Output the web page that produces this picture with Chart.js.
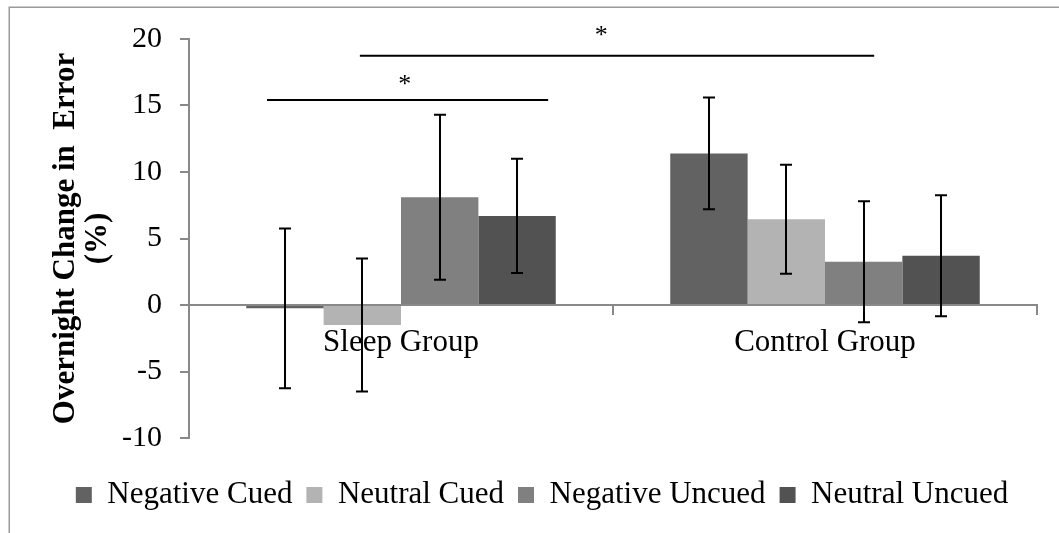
<!DOCTYPE html>
<html><head><meta charset="utf-8">
<script src="https://cdn.jsdelivr.net/npm/chart.js@4.4.1/dist/chart.umd.min.js"></script>
<style>html,body{margin:0;padding:0;background:#fff}#wrap{width:1059px;height:533px}</style>
</head><body><div id="wrap"><canvas id="c" width="1059" height="533"></canvas></div>
<script>
// ---- data ----
const categories = ['Sleep Group', 'Control Group'];
const seriesNames = ['Negative Cued', 'Neutral Cued', 'Negative Uncued', 'Neutral Uncued'];
const negativeCued = [-0.25, 11.4];
const neutralCued = [-1.5, 6.45];
const negativeUncued = [8.1, 3.25];
const neutralUncued = [6.7, 3.7];
const negativeCuedErr = [6.0, 4.2];
const neutralCuedErr = [5.0, 4.1];
const negativeUncuedErr = [6.2, 4.55];
const neutralUncuedErr = [4.3, 4.55];
const yMin = -10, yMax = 20, yStep = 5;
// significance brackets (x in category units, y in data units)
const sigFrom = [-0.316, -0.097];
const sigTo = [0.347, 1.116];
const sigY = [15.42, 18.74];
const sigLabel = ['*', '*'];
const starX = [0.009, 0.472];
const starY = [17.0, 20.7];

const seriesValues = [negativeCued, neutralCued, negativeUncued, neutralUncued];
const seriesErrors = [negativeCuedErr, neutralCuedErr, negativeUncuedErr, neutralUncuedErr];
const colors = ['#626262', '#b3b3b3', '#808080', '#525252'];
const FONT = "'Liberation Serif', 'Times New Roman', serif";
const AXIS = '#898989';

const framePlugin = {
  id: 'frame',
  beforeDraw(chart) {
    const ctx = chart.ctx;
    ctx.save();
    ctx.fillStyle = '#fff';
    ctx.fillRect(0, 0, chart.width, chart.height);
    ctx.strokeStyle = '#9a9a9a';
    ctx.lineWidth = 1.5;
    ctx.strokeRect(9.25, 7.25, 3000, 3000);
    ctx.restore();
  }
};

const errorBarPlugin = {
  id: 'errorBars',
  afterDatasetsDraw(chart) {
    const ctx = chart.ctx;
    const ys = chart.scales.y;
    ctx.save();
    ctx.strokeStyle = '#000';
    ctx.lineWidth = 2;
    chart.data.datasets.forEach((ds, i) => {
      const meta = chart.getDatasetMeta(i);
      meta.data.forEach((bar, j) => {
        const v = ds.data[j], e = seriesErrors[i][j];
        const x = Math.round(bar.x);
        const yt = ys.getPixelForValue(v + e), yb = ys.getPixelForValue(v - e);
        ctx.beginPath();
        ctx.moveTo(x, yt); ctx.lineTo(x, yb);
        ctx.moveTo(x - 6, yt); ctx.lineTo(x + 6, yt);
        ctx.moveTo(x - 6, yb); ctx.lineTo(x + 6, yb);
        ctx.stroke();
      });
    });
    ctx.restore();
  }
};

const sigPlugin = {
  id: 'sig',
  afterDraw(chart) {
    const ctx = chart.ctx;
    const xs = chart.scales.x, ys = chart.scales.y;
    ctx.save();
    ctx.strokeStyle = '#000';
    ctx.lineWidth = 2;
    for (let k = 0; k < sigFrom.length; k++) {
      const y = ys.getPixelForValue(sigY[k]);
      ctx.beginPath();
      ctx.moveTo(xs.getPixelForValue(sigFrom[k]), y);
      ctx.lineTo(xs.getPixelForValue(sigTo[k]), y);
      ctx.stroke();
      ctx.fillStyle = '#000';
      ctx.font = '26px ' + FONT;
      ctx.textAlign = 'center';
      ctx.textBaseline = 'alphabetic';
      ctx.fillText(sigLabel[k], xs.getPixelForValue(starX[k]), ys.getPixelForValue(starY[k]) + 13);
    }
    ctx.restore();
  }
};

new Chart(document.getElementById('c'), {
  type: 'bar',
  data: {
    labels: categories,
    datasets: seriesNames.map((n, i) => ({
      label: n,
      data: seriesValues[i],
      backgroundColor: colors[i],
      borderWidth: 0,
      categoryPercentage: 0.73,
      barPercentage: 1.0
    }))
  },
  options: {
    responsive: false,
    animation: false,
    devicePixelRatio: 1,
    layout: { padding: { left: 47, right: 22, top: 39, bottom: 12.5 } },
    plugins: {
      tooltip: { enabled: false },
      legend: {
        position: 'bottom',
        title: { display: true, text: ' ', font: { size: 10 }, padding: { top: 0, bottom: 15.5 } },
        labels: {
          boxWidth: 16, boxHeight: 16, padding: 14, color: '#000',
          font: { family: FONT, size: 31 }
        }
      }
    },
    scales: {
      x: {
        position: { y: 0 },
        grid: { drawOnChartArea: false, drawTicks: true, tickLength: 9, color: AXIS, lineWidth: 2 },
        border: { display: true, color: AXIS, width: 2 },
        ticks: { color: '#000', font: { family: FONT, size: 31 }, padding: 10, maxRotation: 0 }
      },
      y: {
        min: yMin, max: yMax,
        afterFit(s) { s.width = 142; },
        grid: { drawOnChartArea: false, drawTicks: true, tickLength: 9, color: AXIS, lineWidth: 2 },
        border: { display: true, color: AXIS, width: 2 },
        ticks: { stepSize: yStep, color: '#000', font: { family: FONT, size: 30 }, padding: 18 },
        title: {
          display: true,
          text: ['Overnight Change in  Error', '(%)'],
          color: '#000',
          font: { family: FONT, size: 31, weight: 'bold', lineHeight: 1.05 },
          padding: { top: 2.5, bottom: 0 }
        }
      }
    }
  },
  plugins: [framePlugin, errorBarPlugin, sigPlugin]
});
</script>
</body></html>
